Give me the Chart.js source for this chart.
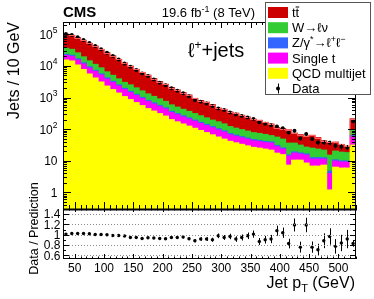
<!DOCTYPE html>
<html><head><meta charset="utf-8">
<script src="https://cdn.jsdelivr.net/npm/chart.js@4.4.1/dist/chart.umd.min.js"></script>
<style>html,body{margin:0;padding:0;background:#fff;}canvas{display:block;}</style>
</head><body>
<canvas id="c" width="374" height="299"></canvas>
<script>
// ---- data ----
const binCenters = [35,45,55,65,75,85,95,105,115,125,135,145,155,165,175,185,195,205,215,225,235,245,255,265,275,285,295,305,315,325,335,345,355,365,375,385,395,405,415,425,435,445,455,465,475,485,495,505,515,525];
const qcd = [15400,14300,10700,7690,5540,4140,3100,2310,1790,1390,1076,865,695,558,449,374,312,260,201,171,146,125,107,91,78,66.5,56.6,48.6,41.4,37.1,33.3,29.8,26.7,25.2,23.5,21.8,17.5,15.7,7.3,10.5,10.5,8.5,6.8,6.8,7.3,1.2,6.3,5.9,5.9,31.4];
const singleTop = [5950,5530,4700,3790,3050,2510,2050,1540,1190,925,715,574,462,371,298,248,207,172,134,115,97,84,71,60,52,44.5,37.8,32.4,25.1,22.5,20.1,18.1,16.2,15.3,14.2,14.5,10.6,7.8,6.8,7,5.8,6.6,4.5,4.5,4,2.75,3.5,3.2,3.2,24.8];
const zll = [1950,1820,1410,1050,780,610,470,350,275,210,163,132,105,85,68,57,47,40,31,26,23,19,16,14,12,10,8.6,7.3,6.1,5.4,4.9,4.4,4,3.7,3.4,3.3,2.6,2.1,1.3,1.6,1.5,1.4,1.3,1.3,1.1,0.8,0.9,0.8,0.8,6.5];
const wlnu = [12800,11860,9210,6870,5130,3980,3090,2300,1790,1385,1073,952,766,616,494,412,344,286,221,188,160,138,118,101,86,73,68,59,48.4,43,38.7,34.7,31,29.4,27.3,23.1,25.5,23,20.9,17.2,13.6,10.6,12.6,10.9,9.4,10.4,9.6,8.9,8.3,31];
const ttbar = [64640,59200,52000,45000,37500,31160,24590,19700,15855,12190,9273,7377,5772,4610,3791,2859,2270,1872,1493,1230,1004,834,628,537,486,400,293,277,229,213,177,154,128,117,95.6,82.3,55.8,55.4,58.7,38.7,35.6,32.9,38.8,30.5,21.2,22.9,18.7,14.2,10.8,119];
const dataVals = [102000,95000,80000,66000,53000,42700,33500,26200,20600,15900,12000,9400,7400,5800,4800,3700,2950,2430,1970,1640,1360,1110,832,736,655,537,455,402,339,294,260,236,209,166,148,133,121,108,79,89,51,71,49,38,38,37,30,28,26.5,177];
const dataErr = [319,308,283,257,230,207,183,162,144,126,110,97,86,76,69,61,54,49,44,40,37,33,29,27,26,23,21,20,18,17,16,15,14.5,12.9,12.2,11.5,11,10.4,8.9,9.4,7.1,8.4,7,6.2,6.2,6.1,5.5,5.3,5.1,13.3];
const ratioVals = [1.013,1.025,1.025,1.025,1.02,1.006,1.006,1.0,0.987,0.987,0.975,0.948,0.948,0.929,0.942,0.937,0.929,0.923,0.948,0.948,0.956,0.923,0.885,0.917,0.917,0.904,0.98,0.948,0.967,0.917,0.948,0.98,1.013,0.87,0.904,0.917,1.08,1.04,0.83,1.19,0.76,1.19,0.76,0.71,0.885,0.967,0.775,0.84,0.917,0.83];
const ratioErr = [0.003,0.003,0.004,0.004,0.004,0.005,0.005,0.006,0.007,0.008,0.009,0.01,0.011,0.012,0.014,0.015,0.017,0.019,0.021,0.023,0.026,0.028,0.031,0.034,0.036,0.039,0.046,0.047,0.053,0.053,0.059,0.064,0.07,0.068,0.074,0.08,0.098,0.1,0.093,0.126,0.106,0.141,0.109,0.115,0.144,0.159,0.141,0.159,0.178,0.062];
const xTickLabels = [50,100,150,200,250,300,350,400,450,500];
const yTickLabels = [[1,'1',''],[10,'10',''],[100,'10','2'],[1000,'10','3'],[10000,'10','4'],[100000,'10','5']];
const ratioTickLabels = [[0.6,'0.6'],[0.8,'0.8'],[1.0,'1'],[1.2,'1.2'],[1.4,'1.4']];

const FONT = '"Liberation Sans", Arial, "DejaVu Sans", sans-serif';
const pts = arr => arr.map((v, i) => ({x: binCenters[i], y: v}));

function rich(c, segs, x, y, align) {
  let w = 0;
  segs.forEach(s => { c.font = (s[3] ? 'bold ' : '') + s[1] + 'px ' + FONT; w += c.measureText(s[0]).width; });
  let cx = align === 'right' ? x - w : (align === 'center' ? x - w / 2 : x);
  c.textAlign = 'left'; c.textBaseline = 'alphabetic';
  segs.forEach(s => { c.font = (s[3] ? 'bold ' : '') + s[1] + 'px ' + FONT; c.fillText(s[0], cx, y + (s[2] || 0)); cx += c.measureText(s[0]).width; });
  return w;
}

const decor = {
  id: 'decor',
  afterDatasetsDraw(chart) {
    const c = chart.ctx, xs = chart.scales.x, ys = chart.scales.y, yr = chart.scales.y2;
    c.save();
    // light outline along the top of the ttbar stack
    const meta = chart.getDatasetMeta(4);
    c.strokeStyle = '#ff6060'; c.lineWidth = 1;
    c.beginPath();
    meta.data.forEach((b, i) => {
      const x0 = b.x - b.width / 2, x1 = b.x + b.width / 2, y = Math.round(b.y) + 0.5;
      if (i === 0) c.moveTo(x0, y); else c.lineTo(x0, y);
      c.lineTo(x1, y);
    });
    c.stroke();
    c.strokeStyle = '#000'; c.lineWidth = 1;
    const eb = (scale, vals, errs, lo) => {
      vals.forEach((v, i) => {
        const px = Math.round(xs.getPixelForValue(binCenters[i])) + 0.5;
        const a = scale.getPixelForValue(Math.max(v - errs[i], lo)), b = scale.getPixelForValue(v + errs[i]);
        c.beginPath(); c.moveTo(px, a); c.lineTo(px, b); c.stroke();
      });
    };
    eb(ys, dataVals, dataErr, 0.31);
    eb(yr, ratioVals, ratioErr, 0.53);
    c.restore();
  },
  afterDraw(chart) {
    const c = chart.ctx, xs = chart.scales.x, ys = chart.scales.y, yr = chart.scales.y2;
    const L = xs.left, R = xs.right, T = ys.top, M = ys.bottom, B = yr.bottom;
    c.save();
    c.fillStyle = '#000'; c.strokeStyle = '#000'; c.lineWidth = 1;
    const vl = (x, y1, y2) => { const p = Math.round(x) + 0.5; c.beginPath(); c.moveTo(p, y1); c.lineTo(p, y2); c.stroke(); };
    const hl = (y, x1, x2) => { const p = Math.round(y) + 0.5; c.beginPath(); c.moveTo(x1, p); c.lineTo(x2, p); c.stroke(); };
    c.save(); c.strokeStyle = '#8a8a8a'; c.setLineDash([1, 2]);
    ratioTickLabels.forEach(t => hl(yr.getPixelForValue(t[0]), L, R));
    c.restore();
    for (let v = 30; v <= 530; v += 10) {
      const px = xs.getPixelForValue(v), major = v % 50 === 0;
      vl(px, T, T + (major ? 6 : 3));
      vl(px, M, M - (major ? 7 : 4));
      vl(px, M, M + (major ? 3 : 1.5));
      vl(px, B, B - (major ? 5 : 2.5));
    }
    for (let e = -1; e <= 5; e++) for (let k = 1; k <= 9; k++) {
      const v = k * Math.pow(10, e);
      if (v < ys.min || v > ys.max) continue;
      const py = ys.getPixelForValue(v), len = k === 1 ? 8 : 4;
      hl(py, L, L + len); hl(py, R - len, R);
    }
    for (let v = 0.6; v <= 1.45; v += 0.1) {
      const py = yr.getPixelForValue(v), major = Math.abs(Math.round(v * 10) % 2) === 0;
      const len = major ? 6 : 3;
      hl(py, L, L + len); hl(py, R - len, R);
    }
    c.strokeRect(L + 0.5, T + 0.5, R - L - 1, M - T);
    c.strokeRect(L + 0.5, M + 0.5, R - L - 1, B - M - 1);
    c.lineWidth = 2; c.beginPath(); c.moveTo(L, M + 0.5); c.lineTo(R, M + 0.5); c.stroke();
    c.lineWidth = 1;
    yTickLabels.forEach(t => {
      const py = ys.getPixelForValue(t[0]);
      const segs = [[t[1], 12, 4.3]];
      if (t[2]) segs.push([t[2], 8.5, -1.5]);
      rich(c, segs, 57.5, py, 'right');
    });
    ratioTickLabels.forEach(t => rich(c, [[t[1], 12, 4.3]], 60.5, yr.getPixelForValue(t[0]), 'right'));
    xTickLabels.forEach(v => rich(c, [[String(v), 12, 0]], xs.getPixelForValue(v), 271.5, 'center'));
    c.save(); c.translate(19, T); c.rotate(-Math.PI / 2);
    c.font = '16px ' + FONT; c.textAlign = 'right'; c.textBaseline = 'alphabetic';
    c.fillText('Jets / 10 GeV', 0, 0); c.restore();
    c.save(); c.translate(37.5, 228.5); c.rotate(-Math.PI / 2);
    c.font = '12.5px ' + FONT; c.textAlign = 'center'; c.textBaseline = 'alphabetic';
    c.fillText('Data / Prediction', 0, 0); c.restore();
    rich(c, [['Jet p', 16, 0], ['T', 11, 4], [' (GeV)', 16, 0]], 355, 288, 'right');
    rich(c, [['CMS', 15, 0, true]], 63, 16.5, 'left');
    rich(c, [['19.6 fb', 13, 0], ['-1', 9, -5], [' (8 TeV)', 13, 0]], 255, 16.5, 'right');
    rich(c, [['\u2113', 20, 0], ['+', 12, -8], ['+jets', 20, 0]], 188, 57, 'left');
    c.fillStyle = '#fff'; c.fillRect(265.5, 2.5, 105, 92);
    c.strokeStyle = '#555'; c.strokeRect(265.5, 2.5, 105, 92);
    const rows = [
      ['#cc0000', null], ['#33cc33', [['W\u2192\u2113\u03bd', 13, 0]]],
      ['#3366ff', [['Z/\u03b3', 13, 0], ['*', 9, -5], ['\u2192\u2113', 13, 0], ['+', 9, -5], ['\u2113', 13, 0], ['\u2212', 9, -5]]],
      ['#ff00ff', [['Single t', 13, 0]]], ['#ffff00', [['QCD multijet', 13, 0]]], [null, [['Data', 13, 0]]]
    ];
    rows.forEach((r, i) => {
      const cy = 12.5 + i * 15.2;
      if (r[0]) { c.fillStyle = r[0]; c.fillRect(268, cy - 5.5, 20, 11); }
      else {
        c.strokeStyle = '#000'; vl(277.5, cy - 5, cy + 5);
        c.beginPath(); c.arc(278, cy, 2, 0, 2 * Math.PI); c.fillStyle = '#000'; c.fill();
      }
      c.fillStyle = '#000';
      if (r[1]) rich(c, r[1], 292, cy + 4.5, 'left');
      else {
        c.font = '13px ' + FONT; c.textAlign = 'left'; c.textBaseline = 'alphabetic';
        const wt = c.measureText('t').width;
        c.fillText('tt', 292, cy + 4.5);
        c.strokeStyle = '#000'; c.lineWidth = 1;
        c.beginPath(); c.moveTo(292 + wt, cy - 5.5); c.lineTo(292 + 2 * wt, cy - 5.5); c.stroke();
      }
    });
    c.restore();
  }
};

const barDs = (label, arr, color) => ({
  type: 'bar', label, data: pts(arr), backgroundColor: color, yAxisID: 'y', stack: 'mc',
  barPercentage: 1, categoryPercentage: 1, borderWidth: 0, inflateAmount: 0.5
});

new Chart(document.getElementById('c'), {
  data: {
    datasets: [
      barDs('QCD multijet', qcd, '#ffff00'),
      barDs('Single t', singleTop, '#ff00ff'),
      barDs('Z/gamma*', zll, '#3366ff'),
      barDs('W', wlnu, '#33cc33'),
      barDs('ttbar', ttbar, '#cc0000'),
      {type: 'line', label: 'Data', data: pts(dataVals), yAxisID: 'y', showLine: false, pointRadius: 2, pointBackgroundColor: '#000', pointBorderWidth: 0, order: -1},
      {type: 'line', label: 'Ratio', data: pts(ratioVals), yAxisID: 'y2', showLine: false, pointRadius: 1.7, pointBackgroundColor: '#000', pointBorderWidth: 0, order: -1}
    ]
  },
  options: {
    responsive: false, animation: false, devicePixelRatio: 1,
    layout: {padding: {left: 0, right: 18, top: 22, bottom: 0}},
    plugins: {legend: {display: false}, tooltip: {enabled: false}},
    scales: {
      x: {type: 'linear', min: 30, max: 530, stacked: true, offset: false,
          ticks: {display: false}, grid: {display: false}, border: {display: false}, afterFit(s) { s.height = 40; }},
      y2: {type: 'linear', min: 0.53, max: 1.5, stack: 'v', stackWeight: 50, position: 'left',
          ticks: {display: false}, grid: {display: false}, border: {display: false}, afterFit(s) { s.width = 63; }},
      y: {type: 'logarithmic', min: 0.3, max: 2.45e5, stacked: true, stack: 'v', stackWeight: 187, position: 'left',
          ticks: {display: false}, grid: {display: false}, border: {display: false}, afterFit(s) { s.width = 63; }}
    }
  },
  plugins: [decor]
});
</script></body></html>
